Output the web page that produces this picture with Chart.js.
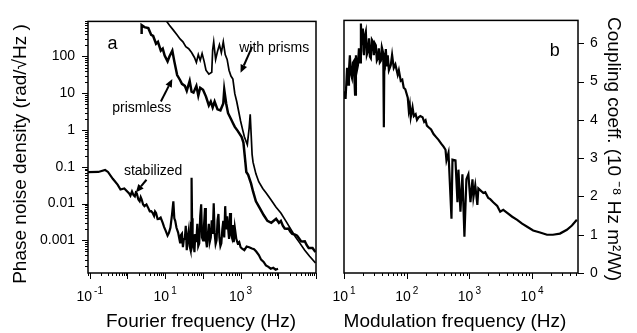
<!DOCTYPE html>
<html><head><meta charset="utf-8">
<script src="https://cdn.jsdelivr.net/npm/chart.js@4.4.1/dist/chart.umd.min.js"></script>
<style>
html,body{margin:0;padding:0;background:#fff;}
#wrap{position:relative;width:637px;height:333px;overflow:hidden;}
#c1{position:absolute;left:0;top:0;width:330px;height:333px;}
#c2{position:absolute;left:330px;top:0;width:307px;height:333px;}
</style></head><body>
<div id="wrap"><canvas id="c1" width="330" height="333"></canvas><canvas id="c2" width="307" height="333"></canvas></div>
<script>
// ---------- Panel a: phase noise density ----------
const prismlessFreq = [2.38,2.38,2.83,3.58,4.27,4.81,5.73,6.44,7.67,8.63,9.7,11.6,13.0,15.5,17.5,20.8,24.8,27.9,33.3,37.4,44.7,50.2,56.4,67.3,75.7,85.1,101,121,144,162,182,205,244,292,348,369,415,466,556,625,703,839,944,1060,1190,1340,1420,1590,1900,2140,2550,3230,4090,5150,6530,8750,10400,11700,13200,14800,16600,18700,21000,23500,28100,31500,35600,40000,45000,50500,56900,64000,72000,81000,97000];
const prismlessPSD = [410,710,630,590,385,362,222,251,144,163,106,73.6,100,144,73.6,31.3,23,18,15.9,11.7,21.6,11.0,10.4,15.9,8.63,14.1,12.5,8.13,4.68,5.98,4.14,5.98,3.66,3.44,5.29,12.5,5.29,2.87,1.99,1.55,1.22,0.95,0.79,0.66,0.457,0.134,0.0725,0.0605,0.0349,0.0214,0.0116,0.00755,0.00491,0.0034,0.00301,0.00385,0.00301,0.0034,0.0025,0.0021,0.00209,0.0021,0.00173,0.0015,0.00144,0.00135,0.00113,0.00095,0.00094,0.00095,0.00074,0.00062,0.00062,0.00062,0.00048];

const prismsFreq = [10.9,13.0,16.5,20.8,24.8,29.6,35.3,42.1,50.2,59.8,67.3,75.7,85.1,95.5,108,121,144,172,182,194,218,244,275,309,348,391,440,494,556,625,703,790,889,1000,1120,1260,1510,1690,1800,1900,2020,2140,2550,3030,3870,4880,6530,8750,11700,15800,21000,28100,37700,50300,67600,97000];
const prismsPSD = [906,710,522,385,301,251,184,163,128,94,69.2,113,78.3,120,73.6,42.4,33.2,37.5,153,251,83,136,208,128,251,113,83,42.4,29.4,24.4,9.75,5.98,3.24,1.76,1.08,0.66,0.404,1.15,2.7,0.84,0.219,0.134,0.0645,0.0394,0.0257,0.0189,0.0123,0.008,0.00555,0.0034,0.00209,0.00128,0.00083,0.00054,0.00037,0.000244];

const stabilizedFreq = [0.09,0.169,0.256,0.305,0.409,0.548,0.654,0.826,1.11,1.2,1.32,1.45,1.57,1.67,1.77,1.95,2.11,2.25,2.38,2.6,2.83,3.2,3.58,3.9,4.27,4.7,5.09,5.4,5.73,6.3,6.83,7.6,8.63,9.4,10.3,11.6,12.6,13.8,15.2,16.5,17.5,18.5,20,22.1,23.4,24.8,26.2,27.9,29.6,31.4,33.3,35.2,37.4,39.6,42.1,44.6,47.3,48.8,50.2,51.7,53.5,56.4,59.8,63,67,71.3,75.5,80.2,85,90.2,95,101,107,114,120,128,136,144,152,162,172,183,194,205,218,231,245,259,274,292,309,328,348,369,391,414,440,466,495,525,557,590,625,660,703,770,839,920,1000,1100,1260,1450,1690,2000,2280,2600,3050,3500,4090,4700,5480,6300,7350,8500,9860];
const stabilizedPSD = [0.0718,0.0727,0.0822,0.0727,0.0474,0.0328,0.0241,0.0257,0.0189,0.0165,0.0214,0.017,0.0157,0.02,0.0189,0.013,0.0116,0.015,0.0131,0.0095,0.00853,0.0095,0.00755,0.0062,0.00628,0.0055,0.00462,0.0061,0.00556,0.0038,0.00385,0.0042,0.00301,0.0023,0.00185,0.00136,0.0016,0.00222,0.005,0.0116,0.004,0.0034,0.0022,0.00163,0.0012,0.000885,0.0014,0.00153,0.000652,0.0011,0.00113,0.0025,0.000542,0.0012,0.00185,0.0007,0.000542,0.003,0.0504,0.004,0.0008,0.001,0.00048,0.0015,0.0009,0.00283,0.0007,0.00083,0.0045,0.00964,0.0012,0.001,0.0025,0.00755,0.0011,0.000652,0.0015,0.00283,0.0009,0.0012,0.0035,0.0015,0.0102,0.0016,0.0008,0.001,0.0035,0.00522,0.0012,0.0007,0.00083,0.002,0.0034,0.0012,0.00853,0.002,0.0045,0.00222,0.0011,0.00556,0.0015,0.0012,0.0026,0.0009,0.00222,0.0011,0.00083,0.0009,0.000652,0.0006,0.000542,0.00068,0.000652,0.0006,0.000575,0.0005,0.000399,0.0003,0.00026,0.00021,0.000191,0.00017,0.00018,0.00016,0.000169];

const xLabelValuesA = [0.1, 10, 1000];
const xLabelExpA = ['-1', '1', '3'];
const yLabelValuesA = [100, 10, 1, 0.1, 0.01, 0.001];
const yLabelTextA = ['100', '10', '1', '0.1', '0.01', '0.001'];

// ---------- Panel b: coupling coefficient ----------
const couplingFreq = [10,10.3,10.6,11.0,11.2,11.6,12.0,12.4,12.9,13.4,13.9,14.4,14.7,15.0,15.5,16.1,16.7,17.3,18.0,18.6,19.3,20.0,20.4,20.8,21.5,22.3,23.1,24.0,25.0,25.9,26.8,27.8,28.9,29.9,31.0,32.2,33.4,34.7,35.9,37.3,38.7,40.1,41.6,42.4,43.2,44.0,44.8,46.5,48.2,49.9,52.0,55.7,58.5,62.2,66,71.9,75,80.4,85,89.6,95,104,108,112,116,120,124,130,139,146,155,165,179,190,200,210,223,245,268,295,322,355,387,416,431,464,518,537,600,645,669,720,774,833,896,964,1040,1120,1160,1240,1340,1390,1500,1670,1790,2000,2150,2400,2780,3100,3470,4010,4820,5780,6930,8340,10400,13400,17300,21500,27800,35900,43200,51800];
const couplingCoeff = [4.58,4.75,4.55,5.1,5.36,4.92,5.3,5.69,5.2,5.10,5.5,5.54,5.0,4.66,5.69,5.3,5.43,5.87,5.5,6.52,5.95,6.39,5.8,5.69,6.2,6.31,5.7,5.79,6.13,5.65,5.61,6.1,6.05,5.69,6.0,5.95,5.55,5.61,5.87,5.5,5.54,5.9,5.79,5.5,3.81,5.6,5.54,5.85,5.4,5.69,5.3,5.43,5.7,5.36,5.45,5.18,5.3,5.02,5.05,4.84,4.8,4.58,4.25,4.4,4.07,4.2,4.33,4.1,4.15,4.0,4.07,4.1,4.07,3.95,3.99,3.85,3.81,3.75,3.63,3.55,3.48,3.38,3.30,3.22,2.94,3.14,1.42,2.96,2.94,1.85,2.70,1.60,2.58,0.95,2.45,2.58,1.85,2.45,1.98,2.29,1.78,2.21,2.16,2.09,2.11,1.96,1.93,1.85,1.75,1.60,1.65,1.57,1.47,1.39,1.29,1.21,1.11,1.06,1.00,1.00,1.03,1.13,1.24,1.39];

const xLabelValuesB = [10, 100, 1000, 10000];
const xLabelExpB = ['1', '2', '3', '4'];
const yTicksB = [0, 1, 2, 3, 4, 5, 6];

// ---------- helpers ----------
const FONT = "'Liberation Sans', Arial, Helvetica, sans-serif";
function pts(xs, ys){ return xs.map((x,i)=>({x:x, y:ys[i]})); }
function logTicks(min, max){
  const t = [];
  for (let e = Math.floor(Math.log10(min)); e <= Math.ceil(Math.log10(max)); e++){
    for (let m = 1; m <= 9; m++){
      const v = m * Math.pow(10, e);
      if (v >= min*0.999 && v <= max*1.001) t.push({value:v});
    }
  }
  return t;
}
function labelFor(values, texts){
  return function(v){
    for (let i=0;i<values.length;i++){
      if (Math.abs(Math.log10(v) - Math.log10(values[i])) < 1e-6) return texts[i];
    }
    return '';
  };
}
const frameTicks = {
  id:'frameTicks',
  afterDraw(chart, args, opts){
    const ctx = chart.ctx, ca = chart.chartArea;
    ctx.save();
    ctx.strokeStyle = '#000';
    ctx.lineWidth = 1;
    Object.values(chart.scales).forEach(s=>{
      s.ticks.forEach(t=>{
        const p = Math.round(s.getPixelForValue(t.value)) + 0.5;
        let major = true;
        if (s.type === 'logarithmic'){
          const l = Math.log10(t.value);
          major = Math.abs(l - Math.round(l)) < 1e-6;
        }
        const len = major ? 6 : 3;
        ctx.beginPath();
        if (s.axis === 'x'){ ctx.moveTo(p, ca.bottom); ctx.lineTo(p, ca.bottom + len); }
        else if (s.position === 'left'){ ctx.moveTo(ca.left, p); ctx.lineTo(ca.left - len, p); }
        else { ctx.moveTo(ca.right, p); ctx.lineTo(ca.right + len, p); }
        ctx.stroke();
      });
    });
    ctx.lineWidth = 1.5;
    ctx.strokeRect(ca.left, ca.top, ca.right - ca.left, ca.bottom - ca.top);
    // power-of-ten labels on the x axis: base "10" with raised exponent
    const xs = chart.scales.x;
    ctx.fillStyle = '#000';
    ctx.textBaseline = 'middle';
    ctx.textAlign = 'left';
    (opts.values||[]).forEach((v,i)=>{
      const px = xs.getPixelForValue(v);
      ctx.font = '14px ' + FONT;
      const wb = ctx.measureText('10').width;
      ctx.font = '10px ' + FONT;
      const we = ctx.measureText(opts.exps[i]).width;
      const x0 = px - (wb + 2 + we)/2;
      const y = ca.bottom + 24;
      ctx.font = '14px ' + FONT;
      ctx.fillText('10', x0, y);
      ctx.font = '10px ' + FONT;
      ctx.fillText(opts.exps[i], x0 + wb + 2, y - 6);
    });
    // axis titles
    ctx.textAlign = 'center';
    (opts.titles||[]).forEach(t=>{
      ctx.save();
      ctx.translate(t.cx, t.cy);
      ctx.rotate(t.rot * Math.PI/180);
      ctx.font = t.size + 'px ' + FONT;
      ctx.fillText(t.text, 0, 0);
      ctx.restore();
    });
    ctx.restore();
  }
};
const annotations = {
  id:'annotations',
  afterDraw(chart, args, opts){
    const ctx = chart.ctx, xs = chart.scales.x, ys = chart.scales.y;
    ctx.save();
    ctx.fillStyle = '#000'; ctx.strokeStyle = '#000';
    ctx.textAlign = 'center'; ctx.textBaseline = 'middle';
    (opts.texts||[]).forEach(a=>{
      ctx.font = a.size + 'px ' + FONT;
      ctx.fillText(a.text, xs.getPixelForValue(a.x), ys.getPixelForValue(a.y));
    });
    (opts.arrows||[]).forEach(a=>{
      const x0 = xs.getPixelForValue(a.x0), y0 = ys.getPixelForValue(a.y0);
      const x1 = xs.getPixelForValue(a.x1), y1 = ys.getPixelForValue(a.y1);
      const ang = Math.atan2(y1-y0, x1-x0), L = 8, W = 3.5;
      const bx = x1 - L*Math.cos(ang), by = y1 - L*Math.sin(ang);
      ctx.lineWidth = 2;
      ctx.beginPath(); ctx.moveTo(x0,y0); ctx.lineTo(bx,by); ctx.stroke();
      ctx.beginPath();
      ctx.moveTo(x1,y1);
      ctx.lineTo(bx + W*Math.sin(ang), by - W*Math.cos(ang));
      ctx.lineTo(bx - W*Math.sin(ang), by + W*Math.cos(ang));
      ctx.closePath(); ctx.fill();
    });
    ctx.restore();
  }
};
const lineDs = (data, w) => ({data, borderColor:'#000', borderWidth:w, pointRadius:0, tension:0, fill:false});
const tickFont = {family:FONT, size:14};

// ---------- chart a ----------
new Chart(document.getElementById('c1'), {
  type:'line',
  data:{datasets:[
    lineDs(pts(prismlessFreq, prismlessPSD), 2.5),
    lineDs(pts(prismsFreq, prismsPSD), 1.7),
    lineDs(pts(stabilizedFreq, stabilizedPSD), 2.2)
  ]},
  options:{
    responsive:false, animation:false,
    layout:{padding:{left:0, top:16, right:5, bottom:0}},
    plugins:{legend:{display:false}, tooltip:{enabled:false},
      frameTicks:{values:xLabelValuesA, exps:xLabelExpA,
        titles:[
          {text:'Fourier frequency (Hz)', cx:201, cy:322, rot:0, size:19},
          {text:'Phase noise density (rad/\u221AHz )', cx:21, cy:154, rot:-90, size:19}
        ]},
      annotations:{
        texts:[
          {text:'a', x:0.40, y:215, size:18},
          {text:'with prisms', x:7800, y:174, size:14},
          {text:'prismless', x:2.4, y:3.9, size:14},
          {text:'stabilized', x:4.8, y:0.077, size:14}
        ],
        arrows:[
          {x0:2020, y0:183, x1:1000, y1:36},
          {x0:7.7, y0:6.0, x1:15.5, y1:24.4},
          {x0:3.2, y0:0.0446, x1:1.67, y1:0.0201}
        ]
      }
    },
    scales:{
      x:{type:'logarithmic', position:'bottom', min:0.09, max:1e5,
        afterBuildTicks:s=>{ s.ticks = logTicks(0.09, 1e5); },
        afterFit:s=>{ s.height = 60; },
        grid:{display:false, drawTicks:false}, border:{display:false},
        ticks:{autoSkip:false, maxRotation:0, padding:14, color:'#000', font:tickFont, callback:()=>''},
        title:{display:false}
      },
      y:{type:'logarithmic', position:'left', min:1.3e-4, max:900,
        afterBuildTicks:s=>{ s.ticks = logTicks(1.3e-4, 900); },
        afterFit:s=>{ s.width = 88; },
        grid:{display:false, drawTicks:false}, border:{display:false},
        ticks:{autoSkip:false, padding:13, color:'#000', font:tickFont,
          callback:labelFor(yLabelValuesA, yLabelTextA)},
        title:{display:false}
      }
    }
  },
  plugins:[frameTicks, annotations]
});

// ---------- chart b ----------
new Chart(document.getElementById('c2'), {
  type:'line',
  data:{datasets:[ lineDs(pts(couplingFreq, couplingCoeff), 2.2) ]},
  options:{
    responsive:false, animation:false,
    layout:{padding:{left:12, top:16, right:0, bottom:0}},
    plugins:{legend:{display:false}, tooltip:{enabled:false},
      frameTicks:{values:xLabelValuesB, exps:xLabelExpB,
        titles:[
          {text:'Modulation frequency (Hz)', cx:125, cy:322, rot:0, size:19},
          {text:'Coupling coeff. (10 \u207B\u2078 Hz m\u00B2/W)', cx:283, cy:149, rot:90, size:19}
        ]},
      annotations:{ texts:[{text:'b', x:23000, y:5.8, size:18}], arrows:[] }
    },
    scales:{
      x:{type:'logarithmic', position:'bottom', min:10, max:54000,
        afterBuildTicks:s=>{ s.ticks = logTicks(10, 54000); },
        afterFit:s=>{ s.height = 60; },
        grid:{display:false, drawTicks:false}, border:{display:false},
        ticks:{autoSkip:false, maxRotation:0, padding:14, color:'#000', font:tickFont, callback:()=>''},
        title:{display:false}
      },
      y:{type:'linear', position:'right', min:0, max:6.6,
        afterBuildTicks:s=>{ s.ticks = yTicksB.map(v=>({value:v})); },
        afterFit:s=>{ s.width = 59; },
        grid:{display:false, drawTicks:false}, border:{display:false},
        ticks:{autoSkip:false, padding:12, color:'#000', font:tickFont, callback:v=>String(v)},
        title:{display:false}
      }
    }
  },
  plugins:[frameTicks, annotations]
});
</script>
</body></html>
